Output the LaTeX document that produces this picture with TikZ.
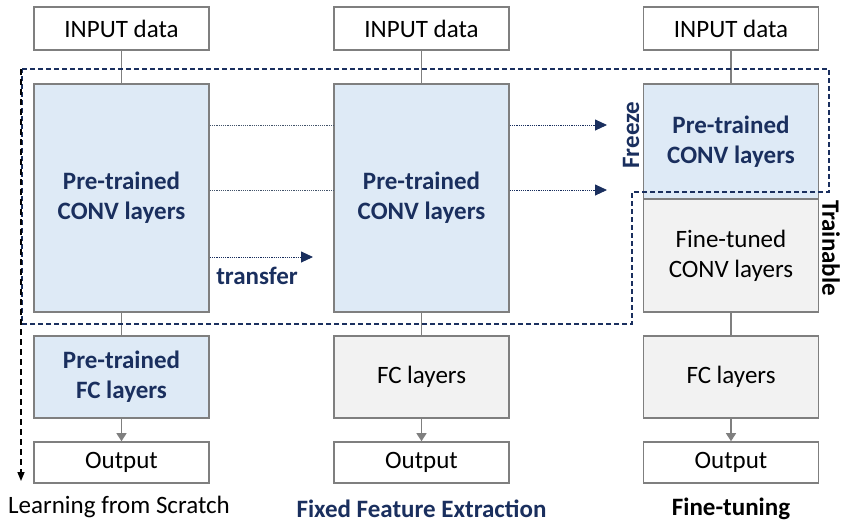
\documentclass[tikz,border=0pt]{standalone}
\usepackage{fontspec}
\setmainfont{Carlito}
\usetikzlibrary{arrows.meta}
\definecolor{navy}{HTML}{1A2F5E}
\definecolor{boxline}{HTML}{7F7F7F}
\definecolor{blueface}{HTML}{DEEAF6}
\definecolor{greyface}{HTML}{F2F2F2}
\definecolor{dotline}{HTML}{44546A}
\tikzset{
  box/.style={draw=boxline, line width=1.6pt, minimum width=175pt, inner sep=0pt, align=center,
    font=\fontsize{25}{30}\selectfont},
  plainbox/.style={box, fill=white},
  bluebox/.style={box, fill=blueface, text=navy, font=\fontsize{25}{30}\selectfont\bfseries},
  greybox/.style={box, fill=greyface},
  link/.style={draw=boxline, line width=1.3pt},
  linkarrow/.style={link, -{Triangle[length=8pt,width=10pt]}, color=boxline},
  dotted line/.style={draw=dotline, line width=0.9pt, dash pattern=on 1.2pt off 1pt},
  dotted arrow/.style={dotted line, -{Triangle[length=12pt,width=11pt]}, color=navy},
  frame/.style={draw=navy, line width=1.8pt, dash pattern=on 5pt off 3pt},
  caption/.style={font=\fontsize{25}{28}\selectfont},
  sidelabel/.style={font=\fontsize{25}{28}\selectfont\bfseries}
}
\begin{document}
\begin{tikzpicture}[x=1pt,y=-1pt]
\useasboundingbox (0,0) rectangle (842,523);

% --- learning from scratch ---
\node[plainbox, minimum height=43pt] (li) at (121.5,28.5) {INPUT data};
\node[bluebox, minimum height=228pt] (lc) at (121.5,198) {Pre-trained\\CONV layers};
\node[bluebox, minimum height=82pt] (lf) at (121.5,377) {Pre-trained\\FC layers};
\node[plainbox, minimum height=41pt] (lo) at (121.5,462.5) {Output};
\node[caption] (lcap) at (119,507) {Learning from Scratch};

% --- fixed feature extraction ---
\node[plainbox, minimum height=43pt] (mi) at (421.5,28.5) {INPUT data};
\node[bluebox, minimum height=228pt] (mc) at (421.5,198) {Pre-trained\\CONV layers};
\node[greybox, minimum height=82pt] (mf) at (421.5,377) {FC layers};
\node[plainbox, minimum height=41pt] (mo) at (421.5,462.5) {Output};
\node[caption, font=\fontsize{25}{28}\selectfont\bfseries, text=navy] (mcap) at (421.5,509) {Fixed Feature Extraction};

% --- fine-tuning ---
\node[plainbox, minimum height=43pt] (ri) at (731,28.5) {INPUT data};
\node[bluebox, minimum height=115pt] (rc) at (731,141.5) {Pre-trained\\CONV layers};
\node[greybox, minimum height=113pt] (rt) at (731,255.5) {Fine-tuned\\CONV layers};
\node[greybox, minimum height=82pt] (rf) at (731,377) {FC layers};
\node[plainbox, minimum height=41pt] (ro) at (731,462.5) {Output};
\node[caption, font=\fontsize{25}{28}\selectfont\bfseries] (rcap) at (731,509) {Fine-tuning};

% vertical links
\foreach \c in {l,m,r} {
  \draw[link] (\c i) -- (\c c);
  \draw[linkarrow] (\c f) -- (\c o);
}
\draw[link] (lc) -- (lf);
\draw[link] (mc) -- (mf);
\draw[link] (rt) -- (rf);

% frozen region
\draw[frame] (22,69) -- (829,69) -- (829,192) -- (632,192) -- (632,324) -- (22,324) -- cycle;

% scratch path
\coordinate (sTop) at (21,69);
\coordinate (sEnd) at (21,481);
\draw[black, line width=1.4pt, dash pattern=on 6pt off 4pt, -{Triangle[length=9pt,width=7pt]}] (sTop) -- (sEnd);

% transfer arrows
\coordinate (r1) at (607,125);
\coordinate (r2) at (607,190);
\coordinate (t1) at (313,257);
\draw[dotted line] (lc.east |- r1) -- (mc.west |- r1);
\draw[dotted arrow] (mc.east |- r1) -- (r1);
\draw[dotted line] (lc.east |- r2) -- (mc.west |- r2);
\draw[dotted arrow] (mc.east |- r2) -- (r2);
\draw[dotted arrow] (lc.east |- t1) -- (t1);
\node[sidelabel, text=navy] (tl) at (257,276) {transfer};

% side labels
\node[rotate=90, sidelabel, text=navy] (fz) at (631,135) {Freeze};
\node[rotate=-90, sidelabel] (tr) at (831,248) {Trainable};
\end{tikzpicture}
\end{document}
